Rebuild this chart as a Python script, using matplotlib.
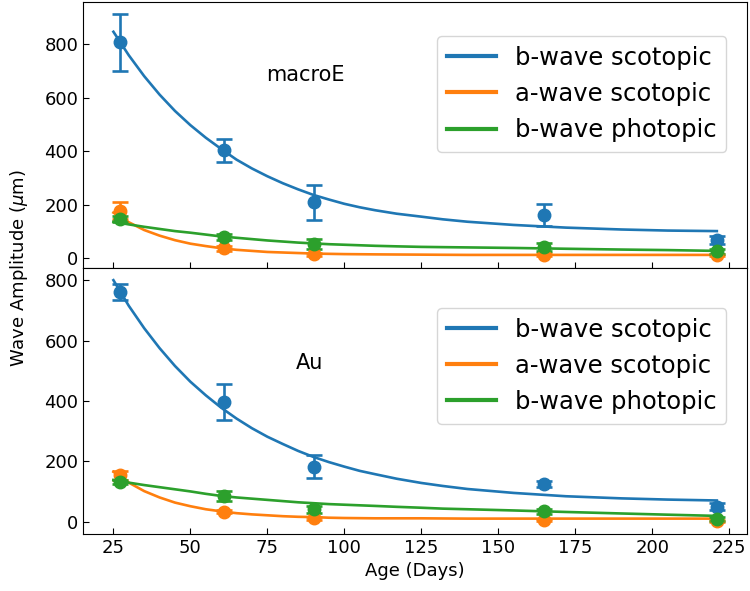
import numpy as np
import matplotlib
matplotlib.use("Agg")
import matplotlib.pyplot as plt

# measured ages (days)
ages = [27, 61, 90, 165, 221]

# macroE group
macro_b_scot = [806, 404, 209, 161, 67]
macro_b_scot_err = [106, 43, 65, 40, 15]
macro_a_scot = [177, 36, 15, 13, 12]
macro_a_scot_err = [32, 8, 6, 5, 5]
macro_b_phot = [146, 79, 53, 40, 25]
macro_b_phot_err = [12, 10, 18, 15, 10]

# Au group
au_b_scot = [761, 396, 183, 127, 51]
au_b_scot_err = [27, 60, 37, 10, 12]
au_a_scot = [155, 34, 12, 7, 3]
au_a_scot_err = [15, 6, 5, 3, 3]
au_b_phot = [132, 86, 42, 35, 10]
au_b_phot_err = [8, 18, 12, 8, 6]

# fit curves
fit_age = [25, 30, 35, 40, 45, 50, 55, 60, 65, 70, 75, 80, 85, 90, 95, 100, 105, 110,
           117, 125, 132, 140, 155, 172, 190, 205, 221]
macro_b_scot_fit = [846, 758, 680, 611, 550, 497, 450, 408, 368, 335, 306, 280, 257, 236, 219,
                    203, 190, 179, 166, 155, 145, 136, 124, 114, 107, 103, 101]
macro_a_scot_fit = [170, 134, 105, 84, 67, 54, 45, 37, 31, 27, 23, 21, 19, 17, 16,
                    15, 14.5, 14, 13.5, 13, 12.5, 12, 12, 12, 12, 12, 12]
macro_b_phot_fit = [136, 126, 117, 109, 101, 95, 88, 81, 76, 71, 66, 62, 58, 55, 52,
                    50, 48, 46, 44, 42, 41, 40, 38, 35, 32, 30, 27]
au_b_scot_fit = [800, 715, 641, 575, 516, 464, 419, 378, 342, 310, 282, 258, 235, 215, 198,
                 183, 169, 158, 143, 129, 119, 109, 96, 85, 78, 74, 71]
au_a_scot_fit = [166, 130, 102, 81, 64, 52, 42, 35, 29, 25, 22, 19, 17, 16, 14,
                 13, 12.5, 12, 12, 12, 11.5, 11, 11, 11, 11, 11, 11]
au_b_phot_fit = [139, 130, 122, 115, 108, 101, 93, 86, 81, 77, 73, 69, 65, 62, 59,
                 57, 55, 53, 50, 47, 44, 42, 38, 33, 28, 24, 20]

labels = ["b-wave scotopic", "a-wave scotopic", "b-wave photopic"]
colors = ["#1f77b4", "#ff7f0e", "#2ca02c"]

panels = [
    ("macroE", [macro_b_scot, macro_a_scot, macro_b_phot],
     [macro_b_scot_err, macro_a_scot_err, macro_b_phot_err],
     [macro_b_scot_fit, macro_a_scot_fit, macro_b_phot_fit]),
    ("Au", [au_b_scot, au_a_scot, au_b_phot],
     [au_b_scot_err, au_a_scot_err, au_b_phot_err],
     [au_b_scot_fit, au_a_scot_fit, au_b_phot_fit]),
]

fig = plt.figure(figsize=(7.5, 5.91), dpi=100)
ax_top = fig.add_axes([0.111, 0.5465, 0.885, 0.450])
ax_bot = fig.add_axes([0.111, 0.0964, 0.885, 0.450], sharex=ax_top)

ylims = [(-37, 957), (-40, 840)]
text_pos = [(0.334, 0.726), (0.341, 0.643)]
leg_top = [0.872, 0.850]

for i, (ax, (name, vals, errs, fits)) in enumerate(zip([ax_top, ax_bot], panels)):
    for v, e, f, c, lab in zip(vals, errs, fits, colors, labels):
        ax.errorbar(ages, v, yerr=e, fmt="o", color=c, markersize=9,
                    elinewidth=1.9, capsize=5.5, capthick=1.9)
        ax.plot(fit_age, f, "-", color=c, linewidth=1.9, label=lab)
    ax.set_ylim(*ylims[i])
    ax.set_yticks([0, 200, 400, 600, 800])
    ax.tick_params(direction="in", length=4.5, labelsize=13)
    ax.text(text_pos[i][0], text_pos[i][1], name, transform=ax.transAxes,
            fontsize=15, ha="center", va="center")
    leg = ax.legend(loc="upper right", bbox_to_anchor=(0.969, leg_top[i]),
                    borderaxespad=0, fontsize=17.5)
    for line in leg.get_lines():
        line.set_linewidth(3)

ax_top.set_xticks([25, 50, 75, 100, 125, 150, 175, 200, 225])
ax_top.tick_params(labelbottom=False)
ax_bot.set_xlabel("Age (Days)", fontsize=13)
fig.text(0.026, 1 - 268 / 591, r"Wave Amplitude ($\mu$m)", rotation=90,
         fontsize=13, ha="center", va="center")

plt.savefig("out.png", dpi=100)
